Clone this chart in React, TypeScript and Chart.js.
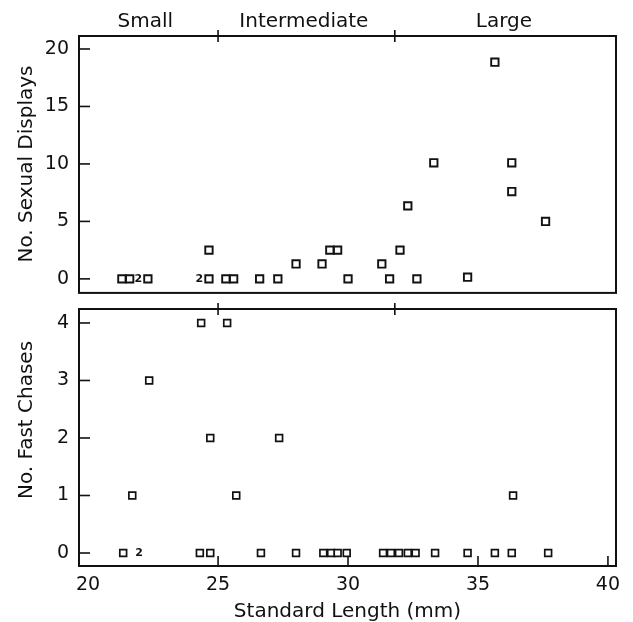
import React, { useEffect, useRef } from "react";
import { Chart, registerables } from "chart.js";

Chart.register(...registerables);

const FONT = '"DejaVu Sans", "Liberation Sans", sans-serif';

// Shared x axis (standard length, mm)
const X_MIN = 19.65;
const X_MAX = 40.31;
const xTicks = [20, 25, 30, 35, 40];

// Size classes shown along the top
const sizeClassNames = ["Small", "Intermediate", "Large"];
const sizeClassCenters = [22.2, 28.3, 36.0];
const sizeClassBounds = [25, 31.8];

// Top panel: number of sexual displays
const displayTicks = [0, 5, 10, 15, 20];
const displayX = [21.3, 21.6, 22.3, 24.65, 24.65, 25.3, 25.6, 26.6, 27.3, 28.0, 29.0, 29.3, 29.6, 30.0, 31.3, 31.6, 32.0, 32.3, 32.65, 33.3, 34.6, 35.65, 36.3, 36.3, 37.6];
const displayY = [0, 0, 0, 0, 2.5, 0, 0, 0, 0, 1.3, 1.3, 2.5, 2.5, 0, 1.3, 0, 2.5, 6.35, 0, 10.1, 0.15, 18.85, 10.1, 7.6, 5.0];
const displayCountX = [21.93, 24.28];
const displayCountY = [0, 0];
const displayCountText = ["2", "2"];

// Bottom panel: number of fast chases
const chaseTicks = [0, 1, 2, 3, 4];
const chaseX = [21.35, 21.7, 22.35, 24.3, 24.35, 24.7, 24.7, 25.35, 25.7, 26.65, 27.35, 28.0, 29.05, 29.35, 29.6, 29.95, 31.35, 31.65, 31.96, 32.3, 32.6, 33.35, 34.6, 35.65, 36.3, 36.35, 37.7];
const chaseY = [0, 1, 3, 0, 4, 0, 2, 4, 1, 0, 2, 0, 0, 0, 0, 0, 0, 0, 0, 0, 0, 0, 0, 0, 0, 1, 0];
const chaseCountX = [21.96];
const chaseCountY = [0];
const chaseCountText = ["2"];

type DecorOpts = {
  top: boolean;
  yTitle: string;
  yTitleCenter: number;
  countX: number[];
  countY: number[];
  countText: string[];
};

function makeDecor(o: DecorOpts) {
  return {
    id: "decor",
    afterDraw(chart: any) {
      const { ctx, chartArea: a, scales } = chart;
      const xs = scales.x;
      const ys = scales.y;
      const line = (x1: number, y1: number, x2: number, y2: number) => {
        ctx.beginPath();
        ctx.moveTo(x1, y1);
        ctx.lineTo(x2, y2);
        ctx.stroke();
      };
      ctx.save();
      ctx.strokeStyle = "#111";
      ctx.fillStyle = "#111";
      ctx.lineWidth = 2;
      ctx.strokeRect(a.left, a.top, a.right - a.left, a.bottom - a.top);
      ctx.lineWidth = 1.6;
      ys.ticks.forEach((t: any) => {
        const y = ys.getPixelForValue(t.value);
        line(a.left, y, a.left + 11, y);
      });
      sizeClassBounds.forEach((v) => {
        const x = xs.getPixelForValue(v);
        line(x, a.top - 6, x, a.top + 6);
      });
      if (!o.top) {
        xs.ticks.forEach((t: any, i: number) => {
          if (i === 0) return;
          const x = xs.getPixelForValue(t.value);
          line(x, a.bottom, x, a.bottom - 10);
        });
      }
      // overlap counts
      ctx.font = "bold 11px " + FONT;
      ctx.textAlign = "center";
      ctx.textBaseline = "middle";
      o.countX.forEach((v, i) => {
        ctx.fillText(o.countText[i], xs.getPixelForValue(v), ys.getPixelForValue(o.countY[i]));
      });
      // y title
      ctx.save();
      ctx.font = "20px " + FONT;
      ctx.textBaseline = "alphabetic";
      ctx.translate(32, o.yTitleCenter);
      ctx.rotate(-Math.PI / 2);
      ctx.fillText(o.yTitle, 0, 0);
      ctx.restore();
      if (o.top) {
        ctx.font = "20px " + FONT;
        ctx.textBaseline = "alphabetic";
        sizeClassNames.forEach((n, i) => {
          ctx.fillText(n, xs.getPixelForValue(sizeClassCenters[i]), 27);
        });
      } else {
        ctx.font = "20px " + FONT;
        ctx.textBaseline = "alphabetic";
        ctx.fillText("Standard Length (mm)", (a.left + a.right) / 2, 317);
      }
      ctx.restore();
    },
  };
}

function yAxis(min: number, max: number, ticks: number[]) {
  return {
    type: "linear",
    min,
    max,
    afterBuildTicks: (s: any) => {
      s.ticks = ticks.map((v) => ({ value: v }));
    },
    grid: { display: false, drawTicks: false },
    border: { display: false },
    ticks: { padding: 10, color: "#111", font: { family: FONT, size: 19 } },
    afterFit: (s: any) => {
      s.width = 79;
      s.paddingTop = 0;
      s.paddingBottom = 0;
    },
  };
}

function dataset(xs: number[], ys: number[], r: number, bw: number) {
  return {
    data: xs.map((x, i) => ({ x, y: ys[i] })),
    pointStyle: "rect",
    pointRadius: r,
    pointBorderWidth: bw,
    borderColor: "#111",
    backgroundColor: "#fff",
    pointBackgroundColor: "#fff",
    pointBorderColor: "#111",
  };
}

export default function App() {
  const topRef = useRef<HTMLCanvasElement | null>(null);
  const botRef = useRef<HTMLCanvasElement | null>(null);

  useEffect(() => {
    const top = new Chart(topRef.current as HTMLCanvasElement, {
      type: "scatter",
      data: { datasets: [dataset(displayX, displayY, 5.2, 1.9) as any] },
      options: {
        responsive: false,
        animation: false,
        layout: { padding: { left: 0, right: 17, top: 36, bottom: 7 } },
        plugins: { legend: { display: false }, tooltip: { enabled: false } },
        scales: {
          x: { type: "linear", min: X_MIN, max: X_MAX, display: false },
          y: yAxis(-1.22, 21.13, displayTicks) as any,
        },
      },
      plugins: [
        makeDecor({
          top: true,
          yTitle: "No. Sexual Displays",
          yTitleCenter: 164,
          countX: displayCountX,
          countY: displayCountY,
          countText: displayCountText,
        }),
      ],
    });
    const bot = new Chart(botRef.current as HTMLCanvasElement, {
      type: "scatter",
      data: { datasets: [dataset(chaseX, chaseY, 4.8, 1.7) as any] },
      options: {
        responsive: false,
        animation: false,
        layout: { padding: { left: 0, right: 17, top: 9, bottom: 0 } },
        plugins: { legend: { display: false }, tooltip: { enabled: false } },
        scales: {
          x: {
            type: "linear",
            min: X_MIN,
            max: X_MAX,
            afterBuildTicks: (s: any) => {
              s.ticks = xTicks.map((v) => ({ value: v }));
            },
            grid: { display: false, drawTicks: false },
            border: { display: false },
            ticks: { padding: 8, color: "#111", font: { family: FONT, size: 19 }, maxRotation: 0 },
            afterFit: (s: any) => {
              s.height = 56;
              s.paddingLeft = 0;
              s.paddingRight = 0;
            },
          } as any,
          y: yAxis(-0.226, 4.243, chaseTicks) as any,
        },
      },
      plugins: [
        makeDecor({
          top: false,
          yTitle: "No. Fast Chases",
          yTitleCenter: 120,
          countX: chaseCountX,
          countY: chaseCountY,
          countText: chaseCountText,
        }),
      ],
    });
    return () => {
      top.destroy();
      bot.destroy();
    };
  }, []);

  return (
    <div style={{ position: "fixed", left: 0, top: 0, width: 633, height: 622, background: "#fff" }}>
      <canvas ref={topRef} width={633} height={300} style={{ position: "absolute", left: 0, top: 0, width: 633, height: 300 }} />
      <canvas ref={botRef} width={633} height={322} style={{ position: "absolute", left: 0, top: 300, width: 633, height: 322 }} />
    </div>
  );
}
